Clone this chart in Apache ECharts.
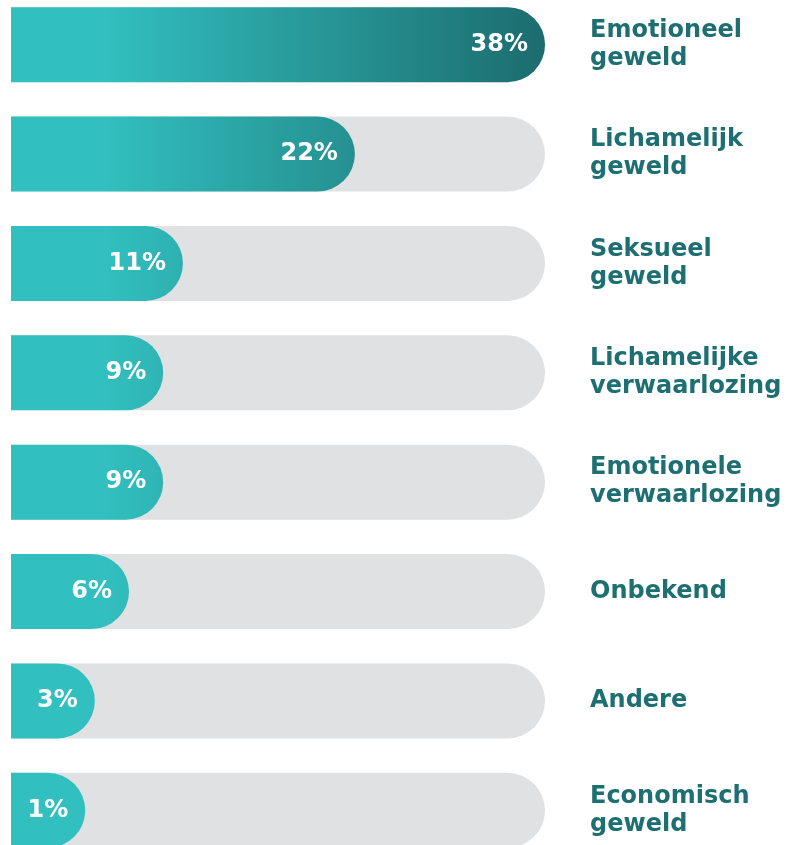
<!DOCTYPE html>
<html>
<head>
<meta charset="utf-8">
<script src="https://cdn.jsdelivr.net/npm/echarts@6/dist/echarts.min.js"></script>
<style>
  html, body { margin: 0; padding: 0; background: #fff; overflow: hidden; }
  #chart { width: 800px; height: 876px; position: relative; top: -10px; }
</style>
</head>
<body>
<div id="chart"></div>
<script>
// categories, top to bottom
const categories = [
  'Emotioneel\ngeweld',
  'Lichamelijk\ngeweld',
  'Seksueel\ngeweld',
  'Lichamelijke\nverwaarlozing',
  'Emotionele\nverwaarlozing',
  'Onbekend',
  'Andere',
  'Economisch\ngeweld'
];
// shown percentages
const percentages = [38, 22, 11, 9, 9, 6, 3, 1];
// drawn bar length as share of the grey track (track = 100)
const barLengths = [100, 64.4, 32.2, 28.5, 28.5, 22.1, 15.7, 13.9];

const chart = echarts.init(document.getElementById('chart'));

const barFill = new echarts.graphic.LinearGradient(105, 0, 545, 0, [
  {offset: 0, color: '#32bfbf'},
  {offset: 1, color: '#1c6c6e'}
], true);

chart.setOption({
  animation: false,
  grid: {left: 11, width: 534, top: 0, height: 875},
  xAxis: {
    type: 'value', min: 0, max: 100,
    show: false
  },
  yAxis: {
    type: 'category',
    data: categories,
    inverse: true,
    position: 'right',
    axisLine: {show: false},
    axisTick: {show: false},
    axisLabel: {
      margin: 45,
      align: 'left',
      color: '#1d6f71',
      fontFamily: 'DejaVu Sans',
      fontWeight: 'bold',
      fontSize: 24,
      lineHeight: 28
    }
  },
  series: [{
    type: 'bar',
    data: barLengths,
    barWidth: 75,
    showBackground: true,
    backgroundStyle: {color: '#e0e1e3', borderRadius: [0, 37.5, 37.5, 0]},
    itemStyle: {color: barFill, borderRadius: [0, 37.5, 37.5, 0]},
    label: {
      show: true,
      position: 'insideRight',
      distance: 17,
      color: '#fff',
      fontFamily: 'DejaVu Sans',
      fontWeight: 'bold',
      fontSize: 24,
      formatter: p => percentages[p.dataIndex] + '%'
    }
  }]
});
</script>
</body>
</html>
